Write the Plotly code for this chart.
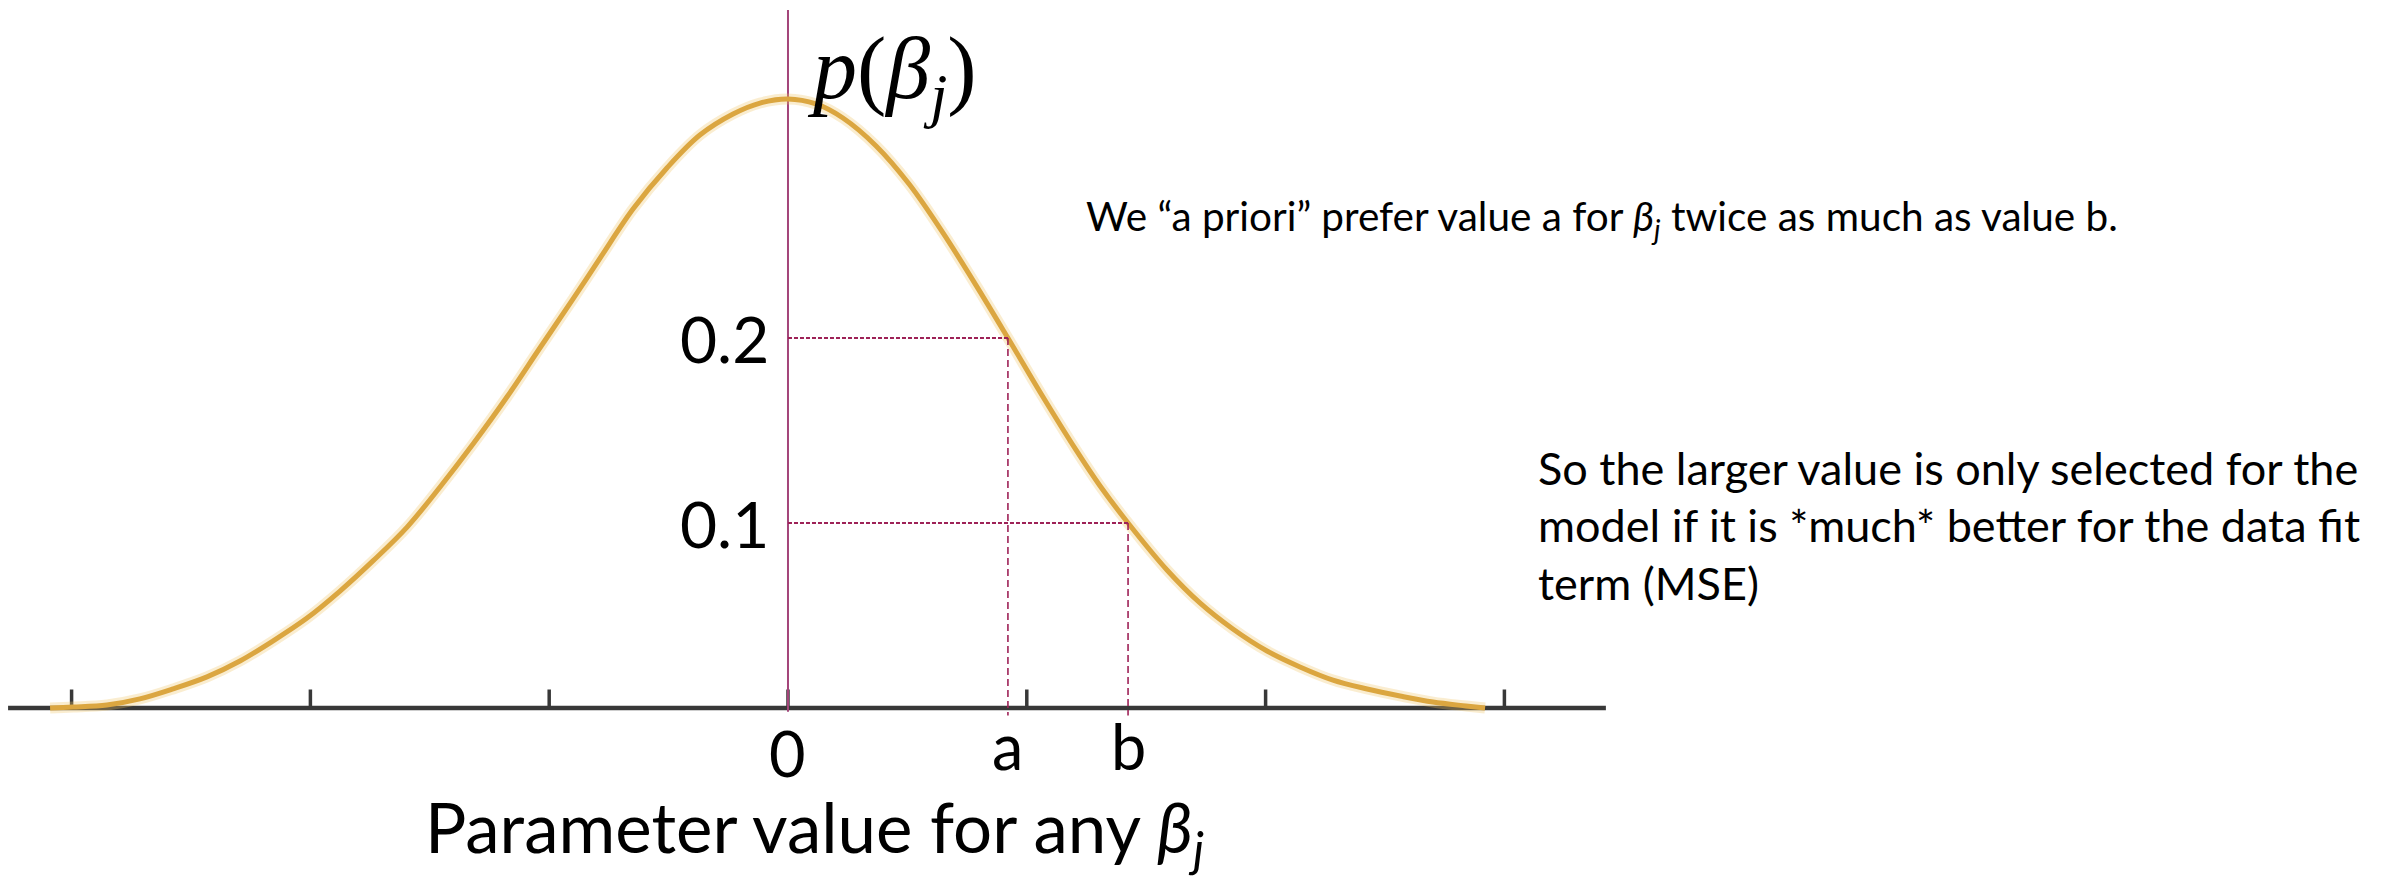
import plotly.graph_objects as go

# Prior density p(beta_j): points
# (x in tick units, 0 at the centre; y in density units)
curve_x = [-3.090, -2.994, -2.852, -2.714, -2.575, -2.433, -2.295, -2.157, -2.014,
           -1.876, -1.738, -1.595, -1.457, -1.319, -1.177, -1.039, -0.900, -0.787,
           -0.649, -0.507, -0.369, -0.230, -0.117, 0.000, 0.117, 0.230, 0.369,
           0.507, 0.649, 0.787, 0.921, 1.068, 1.206, 1.307, 1.424, 1.587, 1.725,
           1.863, 2.006, 2.144, 2.282, 2.425, 2.563, 2.701, 2.839, 2.919]
curve_y = [0.0, 0.0005, 0.0016, 0.0049, 0.0103, 0.0168, 0.0254, 0.0362, 0.0486,
           0.0632, 0.0795, 0.0978, 0.1195, 0.1427, 0.1681, 0.1946, 0.2211, 0.2432,
           0.2697, 0.2919, 0.3097, 0.3211, 0.3270, 0.3292, 0.3265, 0.3189, 0.3038,
           0.2832, 0.2568, 0.2286, 0.2000, 0.1681, 0.1395, 0.1200, 0.1000, 0.0746,
           0.0568, 0.0427, 0.0308, 0.0222, 0.0151, 0.0103, 0.0065, 0.0032, 0.0011,
           0.0]

tick_values = [-3, -2, -1, 0, 1, 2, 3]
value_a = 0.921
value_b = 1.424
density_a = 0.2
density_b = 0.1

W, H = 2402, 880


def fx(px):
    return px / W


def fy(py):
    return 1 - py / H


AXIS_COLOR = "#383838"
CENTER_COLOR = "#A3457A"
GUIDE_COLOR = "#9E2257"
CURVE_COLOR = "#DBA640"
TEXT_FONT = "Lato, Calibri, sans-serif"
MATH_FONT = "Liberation Serif, Cambria Math, serif"

fig = go.Figure()

# horizontal axis line with tick marks
fig.add_trace(go.Scatter(x=[-3.266, 3.425], y=[0, 0], mode="lines",
                         line=dict(color=AXIS_COLOR, width=4.5), hoverinfo="skip"))
tick_x, tick_y = [], []
for t in tick_values:
    tick_x += [t, t, None]
    tick_y += [0, 0.0100, None]
fig.add_trace(go.Scatter(x=tick_x, y=tick_y, mode="lines",
                         line=dict(color=AXIS_COLOR, width=3.5), hoverinfo="skip"))

# vertical line through the centre of the prior
fig.add_trace(go.Scatter(x=[0, 0], y=[-0.002, 0.3773], mode="lines",
                         line=dict(color=CENTER_COLOR, width=2), hoverinfo="skip"))

# bell curve: soft halo underneath, then the stroke
fig.add_trace(go.Scatter(x=curve_x, y=curve_y, mode="lines",
                         line=dict(color="rgba(240,195,100,0.30)", width=11,
                                   shape="spline", smoothing=1.0),
                         hoverinfo="skip"))
fig.add_trace(go.Scatter(x=curve_x, y=curve_y, mode="lines",
                         line=dict(color=CURVE_COLOR, width=5,
                                   shape="spline", smoothing=1.0),
                         hoverinfo="skip"))

# guide lines from the density levels to the values a and b
for val, dens in [(value_a, density_a), (value_b, density_b)]:
    fig.add_trace(go.Scatter(x=[0, val], y=[dens, dens], mode="lines",
                             line=dict(color=GUIDE_COLOR, width=2, dash="4px,2px"),
                             hoverinfo="skip"))
    fig.add_trace(go.Scatter(x=[val, val], y=[dens, -0.004], mode="lines",
                             line=dict(color=GUIDE_COLOR, width=1.6, dash="7px,4px"),
                             hoverinfo="skip"))

annotations = []


def label(text, x, y, size, xanchor="center", yanchor="middle", family=TEXT_FONT,
          xref="paper", yref="paper", height=None):
    ann = dict(text=text, x=x, y=y, xref=xref, yref=yref,
               xanchor=xanchor, yanchor=yanchor, showarrow=False, borderpad=0,
               font=dict(family=family, size=size, color="#000000"))
    if height is not None:
        ann["height"] = height
    annotations.append(ann)


# density level labels
label(f"{density_a:.1f}", fx(770), density_a, 64, xanchor="right", yref="y")
label(f"{density_b:.1f}", fx(770), density_b, 64, xanchor="right", yref="y")

# value labels under the axis
label("0", 0, fy(752), 63, xref="x", height=56)
label("a", value_a, fy(745), 63, xref="x", height=56)
label("b", value_b, fy(745), 63, xref="x", height=56)

# axis titles
label("<i>p</i>(<i>β</i><sub><i>j</i></sub>)", fx(806), fy(74), 88,
      xanchor="left", family=MATH_FONT)
label("Parameter value for any <i>β</i><sub><i>j</i></sub>", fx(814), fy(831), 69)

# commentary
label("We “a priori” prefer value a for <i>β</i><sub><i>j</i></sub> twice as much as value b.",
      fx(1085), fy(218), 40.5, xanchor="left")
label("So the larger value is only selected for the", fx(1537), fy(468), 45, xanchor="left")
label("model if it is *much* better for the data fit", fx(1537), fy(525), 45, xanchor="left")
label("term (MSE)", fx(1537), fy(583), 45, xanchor="left")

fig.update_layout(
    width=W, height=H,
    margin=dict(l=0, r=0, t=0, b=0),
    paper_bgcolor="white", plot_bgcolor="white",
    showlegend=False,
    xaxis=dict(range=[-3.2998, 6.7588], visible=False, fixedrange=True),
    yaxis=dict(range=[-0.09297, 0.38270], visible=False, fixedrange=True),
    annotations=annotations,
)

fig.write_html("out.html")
